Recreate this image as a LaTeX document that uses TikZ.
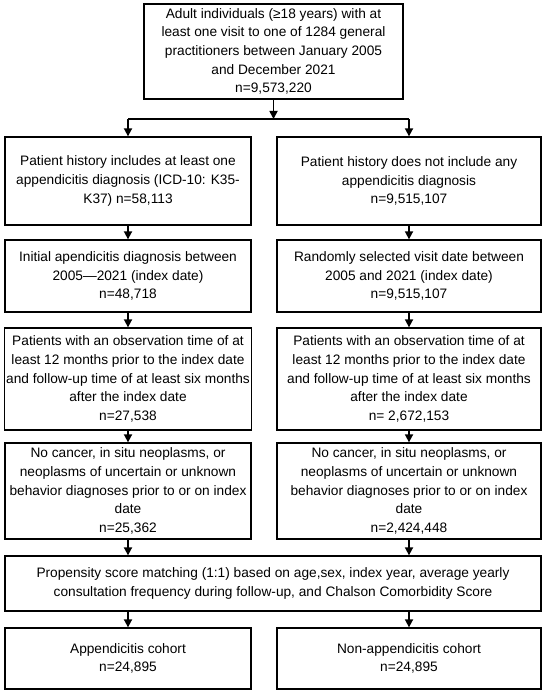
\documentclass[tikz,border=0pt]{standalone}
\usepackage{fontspec}
\setmainfont{Liberation Sans}
\usetikzlibrary{arrows.meta, positioning}

\begin{document}
\begin{tikzpicture}[
    x=1bp, y=-1bp,
    box/.style={draw, line width=1.3bp, minimum width=#1, inner sep=2bp, align=center,
        font=\fontsize{13.7bp}{18.7bp}\selectfont},
    box/.default=246bp,
    arrow/.style={-{Triangle[length=8bp, width=8bp]}, line width=1.7bp},
]
\useasboundingbox (0,0) rectangle (550,695);
% Source population
\node[box=259bp, minimum height=95bp] (src) at (273.5,51.5) {Adult individuals (≥18 years) with at\\least one visit to one of 1284 general\\practitioners between January 2005\\and December 2021\\n=9,573,220};
% Appendicitis branch
\node[box=246bp, minimum height=88bp] (appHist) at (128,181) {Patient history includes at least one\\appendicitis diagnosis (ICD-10: K35-\\K37) n=58,113};
\node[box=246bp, minimum height=72bp] (appIdx) at (128,276) {Initial apendicitis diagnosis between\\2005---2021 (index date)\\n=48,718};
\node[box=246bp, minimum height=102bp] (appObs) at (128,379) {Patients with an observation time of at\\least 12 months prior to the index date\\and follow-up time of at least six months\\after the index date\\n=27,538};
\node[box=246bp, minimum height=96bp] (appCan) at (128,491) {No cancer, in situ neoplasms, or\\neoplasms of uncertain or unknown\\behavior diagnoses prior to or on index\\date\\n=25,362};
% Non-appendicitis branch
\node[box=264bp, minimum height=88bp] (nonHist) at (409,181) {Patient history does not include any\\appendicitis diagnosis\\n=9,515,107};
\node[box=264bp, minimum height=72bp] (nonIdx) at (409,276) {Randomly selected visit date between\\2005 and 2021 (index date)\\n=9,515,107};
\node[box=264bp, minimum height=102bp] (nonObs) at (409,379) {Patients with an observation time of at\\least 12 months prior to the index date\\and follow-up time of at least six months\\after the index date\\n= 2,672,153};
\node[box=264bp, minimum height=96bp] (nonCan) at (409,491) {No cancer, in situ neoplasms, or\\neoplasms of uncertain or unknown\\behavior diagnoses prior to or on index\\date\\n=2,424,448};
% Matching and cohorts
\node[box=536bp, minimum height=55bp] (match) at (273,583.5) {Propensity score matching (1:1) based on age,sex, index year, average yearly\\consultation frequency during follow-up, and Chalson Comorbidity Score};
\node[box=246bp, minimum height=61bp] (appCoh) at (128,658.5) {Appendicitis cohort\\n=24,895};
\node[box=264bp, minimum height=61bp] (nonCoh) at (409,658.5) {Non-appendicitis cohort\\n=24,895};
% Arrows
\coordinate (split) at (src.south |- 0,119);
\draw[arrow] (src) -- (split);
\draw[line width=1.7bp] (appHist.north |- split) -- (nonHist.north |- split);
\draw[arrow] (appHist.north |- split) -- (appHist);
\draw[arrow] (nonHist.north |- split) -- (nonHist);
\draw[arrow] (appHist) -- (appIdx);
\draw[arrow] (appIdx) -- (appObs);
\draw[arrow] (appObs) -- (appCan);
\draw[arrow] (nonHist) -- (nonIdx);
\draw[arrow] (nonIdx) -- (nonObs);
\draw[arrow] (nonObs) -- (nonCan);
\draw[arrow] (appCan) -- (appCan |- match.north);
\draw[arrow] (nonCan) -- (nonCan |- match.north);
\draw[arrow] (appCan |- match.south) -- (appCoh);
\draw[arrow] (nonCan |- match.south) -- (nonCoh);
\end{tikzpicture}
\end{document}
